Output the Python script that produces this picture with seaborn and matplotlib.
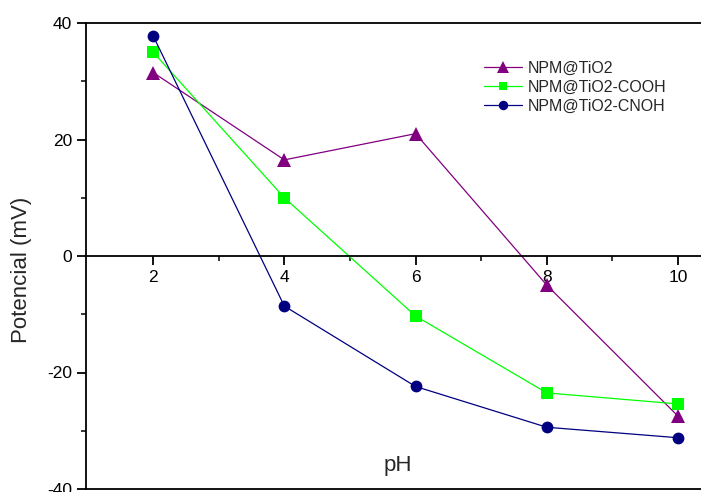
import matplotlib
matplotlib.use("Agg")
import matplotlib.pyplot as plt
import seaborn as sns
import pandas as pd
from matplotlib.ticker import MultipleLocator, FixedLocator

sns.set_style("white")
plt.rcParams["font.family"] = ["Liberation Sans", "DejaVu Sans"]
plt.rcParams["axes.unicode_minus"] = False

ph = [2, 4, 6, 8, 10]
tio2 = [31.5, 16.5, 21.0, -5.0, -27.5]
tio2_cooh = [35.0, 10.0, -10.3, -23.5, -25.4]
tio2_cnoh = [37.8, -8.6, -22.4, -29.4, -31.2]
series_names = ["NPM@TiO2", "NPM@TiO2-COOH", "NPM@TiO2-CNOH"]
series_colors = ["#800080", "#00ff00", "#000080"]
series_markers = ["^", "s", "o"]
series_sizes = [10, 8, 8.5]

df = pd.concat([
    pd.DataFrame({"pH": ph, "Potencial": vals, "Muestra": name})
    for name, vals in zip(series_names, [tio2, tio2_cooh, tio2_cnoh])
], ignore_index=True)

fig = plt.figure(figsize=(7.01, 4.92), dpi=100)
ax = fig.add_axes([86 / 701, 3 / 492, 1 - 86 / 701, (489 - 23) / 492])

for name, color, marker, ms in zip(series_names, series_colors, series_markers, series_sizes):
    sub = df[df["Muestra"] == name]
    sns.lineplot(data=sub, x="pH", y="Potencial", ax=ax, color=color, marker=marker,
                 markersize=ms, markeredgewidth=0, linewidth=0.9, label=name,
                 estimator=None, sort=False)

ax.set_xlim(0.977, 10.35)
ax.set_ylim(-40, 40)

# x axis drawn through zero, with a plain frame line along the bottom
ax.spines["bottom"].set_position(("data", 0))
ax.spines["right"].set_visible(False)
for s in ["left", "bottom", "top"]:
    ax.spines[s].set_linewidth(1.3)
    ax.spines[s].set_color("black")
ax.plot([0, 1], [0, 0], transform=ax.transAxes, color="black", lw=1.3, clip_on=False)

ax.set_xticks([2, 4, 6, 8, 10])
ax.xaxis.set_minor_locator(FixedLocator([3, 5, 7, 9]))
ax.yaxis.set_major_locator(MultipleLocator(20))
ax.yaxis.set_minor_locator(MultipleLocator(10))
ax.tick_params(axis="both", which="major", direction="out", length=6.5, width=1.3,
               labelsize=12.5, colors="black", pad=3.5)
ax.tick_params(axis="both", which="minor", direction="out", length=3.5, width=1.3)
ax.tick_params(axis="x", which="both", bottom=True, top=False)
ax.tick_params(axis="y", which="both", left=True, right=False)

ax.set_xlabel("")
ax.set_ylabel("")
fig.text(22 / 701, 1 - 270 / 492, "Potencial (mV)", rotation=90, ha="center", va="center",
         fontsize=16)
fig.text(398 / 701, 1 - 466 / 492, "pH", ha="center", va="center", fontsize=16)

leg = ax.legend(loc="upper left", bbox_to_anchor=(484 / 701, 1 - 61 / 492),
                bbox_transform=fig.transFigure, frameon=False, fontsize=11.5,
                handlelength=2.4, handletextpad=0.35, labelspacing=0.25, markerscale=0.8,
                borderpad=0, borderaxespad=0)

fig.savefig("out.png", dpi=100)
